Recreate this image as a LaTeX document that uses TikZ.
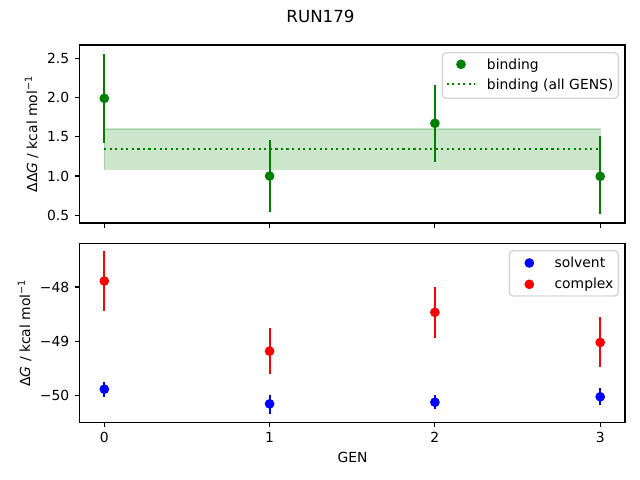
\documentclass[tikz,border=0pt]{standalone}
\usepackage{fontspec}
\setmainfont{DejaVu Sans}
\definecolor{mplgreen}{HTML}{008000}
\definecolor{mplblue}{HTML}{0000FF}
\definecolor{mplred}{HTML}{FF0000}
\definecolor{legendedge}{HTML}{D6D6D6}
\begin{document}
\begin{tikzpicture}[x=0.72pt,y=-0.72pt,
  spine/.style={line width=0.8pt, black},
  tickmark/.style={line width=0.8pt, black},
  ticklabel/.style={font=\fontsize{10}{12}\selectfont, inner sep=0pt},
  axlabel/.style={font=\fontsize{10}{12}\selectfont, inner sep=0pt},
  errbar/.style={line width=1.5pt},
  legendbox/.style={draw=legendedge, fill=white, fill opacity=0.8, line width=1pt, rounded corners=2.8pt},
  legendtext/.style={font=\fontsize{10}{12}\selectfont, inner sep=0pt, anchor=base west},
  band/.style={fill=mplgreen, fill opacity=0.2, draw=mplgreen, draw opacity=0.2, line width=1pt},
  avgline/.style={mplgreen, line width=1.5pt, dash pattern=on 1.5pt off 2.475pt}
]
\useasboundingbox (0,0) rectangle (640,480);

% title
\node[font=\fontsize{12}{14}\selectfont, anchor=base, inner sep=0pt] (title) at (320.5,22.7) {RUN179};

% ---------------- top axes ----------------
\begin{scope}[shift={(104.3,254.55)}, x=119.016pt, y=56.52pt]
  \draw[band] (0,1.086) rectangle (3,1.60);
  \draw[avgline] (0,1.348) -- (3,1.348);
  \foreach \g/\lo/\hi/\m in {0/1.425/2.56/1.99, 1/0.546/1.455/1.0, 2/1.183/2.16/1.672, 3/0.513/1.51/0.997}{
    \draw[errbar, mplgreen] (\g,\lo) -- (\g,\hi);
    \fill[mplgreen] (\g,\m) circle[radius=3.5pt];
  }
  \draw[spine] (-0.15,0.402) rectangle (3.15,2.669);
  \foreach \g in {0,1,2,3}
    \draw[tickmark] (\g,0.402) -- ++(0,-3.5pt);
  \foreach \v/\k in {0.5/a,1.0/b,1.5/c,2.0/d,2.5/e}
    \draw[tickmark] (-0.15,\v) -- ++(-3.5pt,0)
      node[ticklabel, anchor=east, xshift=-3.5pt] (ty\k) {\v};
\end{scope}
\node[axlabel, rotate=90, anchor=base] (ylabtop) at (37,134)
  {ΔΔ\textit{G} / kcal mol\textsuperscript{−1}};

% top legend
\draw[legendbox] (442.3,52.7) rectangle (618.3,98.3);
\fill[mplgreen] (461,64.3) circle[radius=3.5pt];
\coordinate (lga) at (446.7,84);
\coordinate (lgb) at (474.5,84);
\draw[avgline] (lga) -- (lgb);
\node[legendtext] (legbind) at (486.7,69.3) {binding};
\node[legendtext] (legall) at (486.7,89.3) {binding (all GENS)};

% ---------------- bottom axes ----------------
\begin{scope}[shift={(104.3,-2321.8)}, x=119.016pt, y=39.132pt]
  \foreach \g/\lo/\hi/\m in {0/-50.02/-49.74/-49.88, 1/-50.33/-49.99/-50.15, 2/-50.25/-49.99/-50.12, 3/-50.18/-49.86/-50.02}{
    \draw[errbar, mplblue] (\g,\lo) -- (\g,\hi);
    \fill[mplblue] (\g,\m) circle[radius=3.5pt];
  }
  \foreach \g/\lo/\hi/\m in {0/-48.436/-47.34/-47.89, 1/-49.60/-48.76/-49.18, 2/-48.93/-48.0/-48.466, 3/-49.48/-48.56/-49.02}{
    \draw[errbar, mplred] (\g,\lo) -- (\g,\hi);
    \fill[mplred] (\g,\m) circle[radius=3.5pt];
  }
  \draw[spine] (-0.15,-50.49) rectangle (3.15,-47.196);
  \foreach \g in {0,1,2,3}
    \draw[tickmark] (\g,-50.49) -- ++(0,-3.5pt)
      node[ticklabel, anchor=north, yshift=-3.5pt] (tx\g) {\g};
  \foreach \v/\k in {-48/a,-49/b,-50/c}
    \draw[tickmark] (-0.15,\v) -- ++(-3.5pt,0)
      node[ticklabel, anchor=east, xshift=-3.5pt] (tb\k) {−\the\numexpr-\v\relax};
\end{scope}
\node[axlabel, rotate=90, anchor=base] (ylabbot) at (30,333)
  {Δ\textit{G} / kcal mol\textsuperscript{−1}};
\node[axlabel, anchor=base] (xlab) at (352.5,462.7) {GEN};

% bottom legend
\draw[legendbox] (509.3,250.7) rectangle (618.3,296);
\fill[mplblue] (529.3,263) circle[radius=3.5pt];
\fill[mplred] (529.3,284.3) circle[radius=3.5pt];
\node[legendtext] (legsolv) at (554.3,267.3) {solvent};
\node[legendtext] (legcomp) at (554.3,288.3) {complex};
\end{tikzpicture}
\end{document}
